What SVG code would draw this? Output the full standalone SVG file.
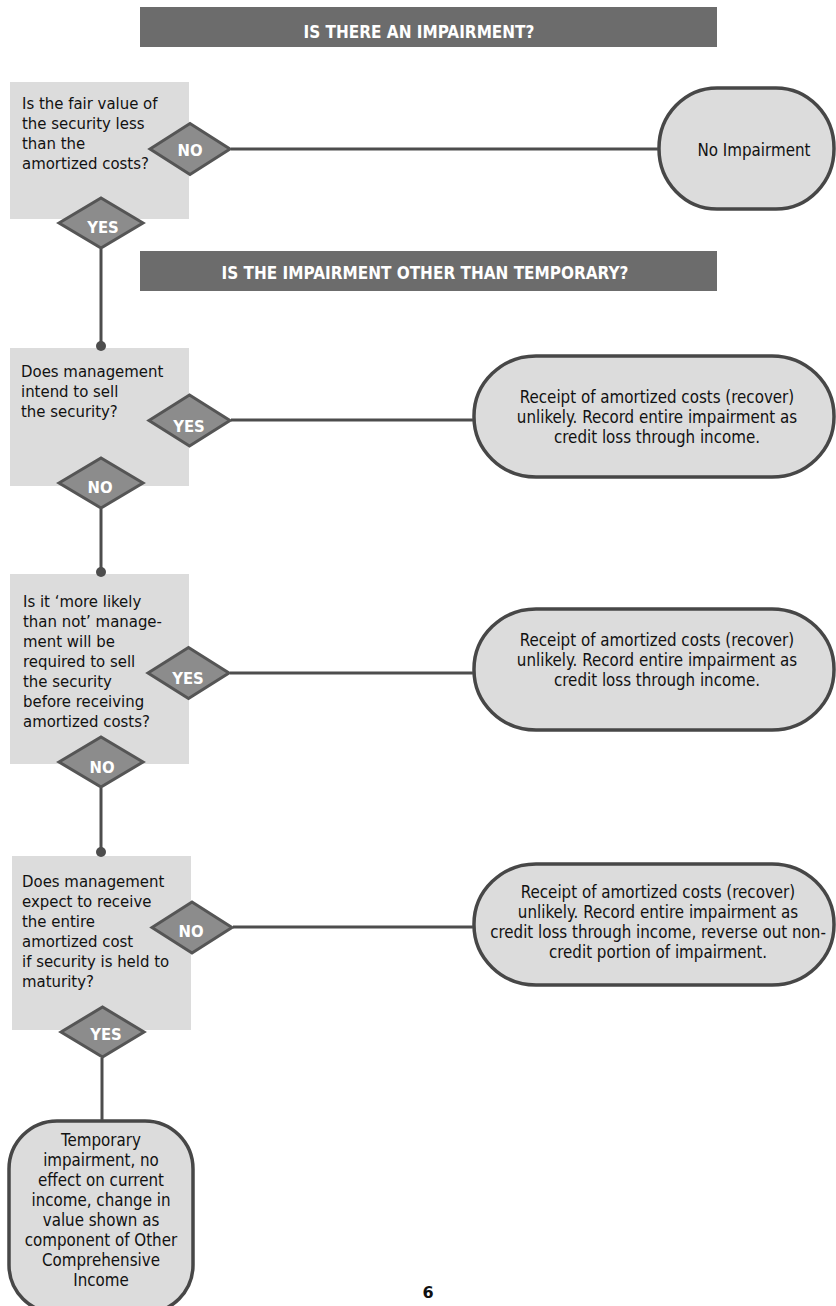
<svg xmlns="http://www.w3.org/2000/svg" width="836" height="1306" viewBox="0 0 836 1306">
<style>
.hdr{fill:#6c6c6c}
.hdrt{fill:#ffffff;font-family:"DejaVu Sans Condensed","DejaVu Sans",sans-serif;font-stretch:condensed;font-weight:bold;font-size:17px;text-anchor:middle}
.q{fill:#dcdcdc}
.qt{fill:#111111;font-family:"DejaVu Sans Condensed","DejaVu Sans",sans-serif;font-stretch:condensed;font-size:16.6px}
.dia{fill:#8c8c8c;stroke:#555555;stroke-width:3;stroke-linejoin:miter}
.dt{fill:#ffffff;font-family:"DejaVu Sans Condensed","DejaVu Sans",sans-serif;font-stretch:condensed;font-weight:bold;font-size:16.5px;text-anchor:middle}
.term{fill:#dcdcdc;stroke:#474747;stroke-width:3.5}
.tt{fill:#111111;font-family:"DejaVu Sans Condensed","DejaVu Sans",sans-serif;font-stretch:condensed;font-size:16.8px;text-anchor:middle}
.con{stroke:#4d4d4d;stroke-width:3;fill:none}
.dot{fill:#4d4d4d}
</style>
<rect width="836" height="1306" fill="#ffffff"/>

<g id="header1">
<rect class="hdr" x="140" y="7" width="577" height="40"/>
<text class="hdrt" x="419" y="38">IS THERE AN IMPAIRMENT?</text>
</g>
<g id="header2">
<rect class="hdr" x="140" y="251" width="577" height="40"/>
<text class="hdrt" x="425" y="279">IS THE IMPAIRMENT OTHER THAN TEMPORARY?</text>
</g>

<g id="q1">
<rect class="q" x="10" y="82" width="179" height="137"/>
<text class="qt" x="22" y="109">Is the fair value of</text>
<text class="qt" x="22" y="129">the security less</text>
<text class="qt" x="22" y="149">than the</text>
<text class="qt" x="22" y="169">amortized costs?</text>
</g>
<g id="q1-no">
<polygon class="dia" points="150,149 190,123.5 230,149 190,174.5"/>
<text class="dt" x="190" y="156">NO</text>
</g>
<g id="q1-yes">
<polygon class="dia" points="59,223 101,198 143,223 101,248"/>
<text class="dt" x="103" y="233">YES</text>
</g>

<g id="no-impairment">
<rect class="term" x="659" y="88" width="175" height="121" rx="58" ry="60"/>
<text class="tt" x="754" y="156">No Impairment</text>
</g>

<g id="q2">
<rect class="q" x="10" y="348" width="179" height="138"/>
<text class="qt" x="21" y="377">Does management</text>
<text class="qt" x="21" y="397">intend to sell</text>
<text class="qt" x="21" y="417">the security?</text>
</g>
<g id="q2-yes">
<polygon class="dia" points="149,420.5 189.5,395 230,420.5 189.5,446"/>
<text class="dt" x="189" y="432">YES</text>
</g>
<g id="q2-no">
<polygon class="dia" points="59,483 101,458 143,483 101,508"/>
<text class="dt" x="100" y="493">NO</text>
</g>

<g id="result1">
<rect class="term" x="474" y="356" width="360" height="121" rx="62" ry="60"/>
<text class="tt" x="657" y="403">Receipt of amortized costs (recover)</text>
<text class="tt" x="657" y="423">unlikely. Record entire impairment as</text>
<text class="tt" x="657" y="443">credit loss through income.</text>
</g>

<g id="q3">
<rect class="q" x="10" y="574" width="179" height="190"/>
<text class="qt" x="23" y="607">Is it ‘more likely</text>
<text class="qt" x="23" y="627">than not’ manage-</text>
<text class="qt" x="23" y="647">ment will be</text>
<text class="qt" x="23" y="667">required to sell</text>
<text class="qt" x="23" y="687">the security</text>
<text class="qt" x="23" y="707">before receiving</text>
<text class="qt" x="23" y="727">amortized costs?</text>
</g>
<g id="q3-yes">
<polygon class="dia" points="148,673 188.5,647.5 229,673 188.5,698.5"/>
<text class="dt" x="188" y="684">YES</text>
</g>
<g id="q3-no">
<polygon class="dia" points="59,762 101,737 143,762 101,787"/>
<text class="dt" x="102" y="773">NO</text>
</g>

<g id="result2">
<rect class="term" x="474" y="609" width="360" height="121" rx="62" ry="60"/>
<text class="tt" x="657" y="646">Receipt of amortized costs (recover)</text>
<text class="tt" x="657" y="666">unlikely. Record entire impairment as</text>
<text class="tt" x="657" y="686">credit loss through income.</text>
</g>

<g id="q4">
<rect class="q" x="12" y="856" width="179" height="174"/>
<text class="qt" x="22" y="887">Does management</text>
<text class="qt" x="22" y="907">expect to receive</text>
<text class="qt" x="22" y="927">the entire</text>
<text class="qt" x="22" y="947">amortized cost</text>
<text class="qt" x="22" y="967">if security is held to</text>
<text class="qt" x="22" y="987">maturity?</text>
</g>
<g id="q4-no">
<polygon class="dia" points="152,927.5 192,902 232,927.5 192,953"/>
<text class="dt" x="191" y="937">NO</text>
</g>
<g id="q4-yes">
<polygon class="dia" points="61,1032 102.5,1007 144,1032 102.5,1057"/>
<text class="dt" x="106" y="1040">YES</text>
</g>

<g id="result3">
<rect class="term" x="474" y="864" width="360" height="121" rx="62" ry="60"/>
<text class="tt" x="658" y="898">Receipt of amortized costs (recover)</text>
<text class="tt" x="658" y="918">unlikely. Record entire impairment as</text>
<text class="tt" x="658" y="938">credit loss through income, reverse out non-</text>
<text class="tt" x="658" y="958">credit portion of impairment.</text>
</g>

<g id="temporary">
<rect class="term" x="9" y="1121" width="184" height="192" rx="48" ry="48"/>
<text class="tt" x="101" y="1146">Temporary</text>
<text class="tt" x="101" y="1166">impairment, no</text>
<text class="tt" x="101" y="1186">effect on current</text>
<text class="tt" x="101" y="1206">income, change in</text>
<text class="tt" x="101" y="1226">value shown as</text>
<text class="tt" x="101" y="1246">component of Other</text>
<text class="tt" x="101" y="1266">Comprehensive</text>
<text class="tt" x="101" y="1286">Income</text>
</g>

<g id="connectors">
<line class="con" x1="231" y1="149" x2="658" y2="149"/>
<line class="con" x1="101" y1="249" x2="101" y2="346"/>
<circle class="dot" cx="101" cy="346" r="5"/>
<line class="con" x1="231" y1="420" x2="473" y2="420"/>
<line class="con" x1="101" y1="509" x2="101" y2="572"/>
<circle class="dot" cx="101" cy="572" r="5"/>
<line class="con" x1="230" y1="673" x2="473" y2="673"/>
<line class="con" x1="101" y1="788" x2="101" y2="852"/>
<circle class="dot" cx="101" cy="852" r="5"/>
<line class="con" x1="233" y1="927" x2="473" y2="927"/>
<line class="con" x1="102" y1="1058" x2="102" y2="1120"/>
</g>

<text x="428" y="1298" font-family="DejaVu Sans, Verdana, sans-serif" font-size="16" font-weight="bold" fill="#111111" text-anchor="middle">6</text>
</svg>
